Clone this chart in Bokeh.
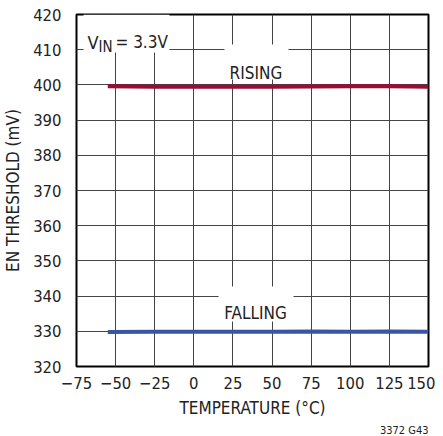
from bokeh.plotting import figure
from bokeh.models import Range1d, FixedTicker, Label, BoxAnnotation, Title
from bokeh.embed import file_html
from bokeh.resources import INLINE

# Data
temperature = [-55, -25, 0, 25, 50, 75, 100, 125, 150]
rising_mv = [399.6, 399.5, 399.5, 399.5, 399.5, 399.55, 399.6, 399.6, 399.5]
falling_mv = [329.8, 329.85, 329.85, 329.85, 329.85, 329.95, 329.9, 329.95, 329.85]

x_ticks = [-75, -50, -25, 0, 25, 50, 75, 100, 125, 150]
x_tick_labels = ["\u221275", "\u221250", "\u221225", "0", "25", "50", "75", "100", "125", "150"]
y_ticks = [320, 330, 340, 350, 360, 370, 380, 390, 400, 410, 420]

FONT = "DejaVu Sans Condensed"
TXT = "#222222"

p = figure(frame_width=352, frame_height=352, output_backend="svg", toolbar_location=None,
           x_range=Range1d(-75, 150), y_range=Range1d(320, 420),
           min_border_left=68, min_border_right=7, min_border_top=14, min_border_bottom=66)
p.outline_line_color = "black"
p.outline_line_width = 2
p.background_fill_color = "white"

for ax in (p.xaxis[0], p.yaxis[0]):
    ax.axis_line_color = None
    ax.major_tick_line_color = None
    ax.minor_tick_line_color = None
    ax.major_label_text_font = FONT
    ax.major_label_text_font_size = "16.5px"
    ax.major_label_text_color = TXT
    ax.axis_label_text_font = FONT
    ax.axis_label_text_font_size = "17px"
    ax.axis_label_text_font_style = "normal"
    ax.axis_label_text_color = TXT

p.xaxis.ticker = FixedTicker(ticks=x_ticks)
p.xaxis.major_label_overrides = {t: s for t, s in zip(x_ticks, x_tick_labels)}
p.yaxis.ticker = FixedTicker(ticks=y_ticks)
p.xaxis.axis_label = "TEMPERATURE (\u00b0C)"
p.yaxis.axis_label = "EN THRESHOLD (mV)"
p.xaxis.major_label_standoff = 4
p.yaxis.major_label_standoff = 9
p.xaxis.axis_label_standoff = 6
p.yaxis.axis_label_standoff = 7

p.xgrid.ticker = FixedTicker(ticks=x_ticks)
p.ygrid.ticker = FixedTicker(ticks=y_ticks)
for g in (p.xgrid[0], p.ygrid[0]):
    g.grid_line_color = "#444444"
    g.grid_line_width = 1

p.line(temperature, rising_mv, line_color="#9c0a36", line_width=4)
p.line(temperature, falling_mv, line_color="#3a55a6", line_width=4)

# white boxes behind the annotations
for l, r, b, t in [(-70.5, -15.6, 409.2, 420), (19.6, 60.5, 401.5, 411.5), (15.8, 63.7, 332.8, 342.7)]:
    p.add_layout(BoxAnnotation(left=l, right=r, bottom=b, top=t, fill_color="white",
                               fill_alpha=1, line_color=None))

def lab(x, y, text, size="17px", align="left"):
    p.add_layout(Label(x=x, y=y, text=text, text_font=FONT, text_font_size=size,
                       text_color=TXT, text_align=align, text_baseline="alphabetic"))

lab(-68.0, 412.05, "V", size="18px")
lab(-61.0, 410.9, "IN", size="15px")
lab(-50.1, 412.05, "= 3.3V")
lab(39.7, 403.5, "RISING", align="center")
lab(39.4, 335.3, "FALLING", align="center")

p.add_layout(Title(text="3372 G43", align="right", text_font=FONT, text_font_size="11px",
                   text_font_style="normal", text_color=TXT, standoff=2, offset=0), "below")

open("out.html", "w").write(file_html(p, INLINE))
